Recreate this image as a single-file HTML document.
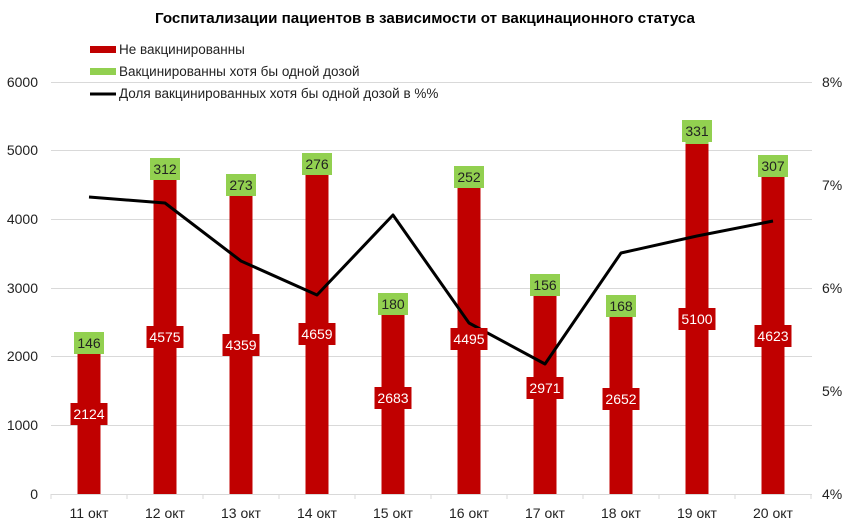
<!DOCTYPE html>
<html><head><meta charset="utf-8"><style>
body{margin:0;background:#fff;}
svg{display:block;font-family:"Liberation Sans","DejaVu Sans",sans-serif;}
</style></head><body>
<svg width="851" height="523" viewBox="0 0 851 523" xmlns="http://www.w3.org/2000/svg">
<rect width="851" height="523" fill="#fff"/>
<text x="425" y="23" font-size="15" font-weight="bold" text-anchor="middle" fill="#000" textLength="540" lengthAdjust="spacingAndGlyphs">Госпитализации пациентов в зависимости от вакцинационного статуса</text>
<g stroke="#d9d9d9" stroke-width="1">
<line x1="51" y1="82.5" x2="812" y2="82.5"/>
<line x1="51" y1="150.5" x2="812" y2="150.5"/>
<line x1="51" y1="219.5" x2="812" y2="219.5"/>
<line x1="51" y1="288.5" x2="812" y2="288.5"/>
<line x1="51" y1="356.5" x2="812" y2="356.5"/>
<line x1="51" y1="425.5" x2="812" y2="425.5"/>
<line x1="51" y1="494.5" x2="812" y2="494.5"/>
<line x1="51" y1="494" x2="51" y2="499"/><line x1="127" y1="494" x2="127" y2="499"/><line x1="203" y1="494" x2="203" y2="499"/><line x1="279" y1="494" x2="279" y2="499"/><line x1="355" y1="494" x2="355" y2="499"/><line x1="431" y1="494" x2="431" y2="499"/><line x1="507" y1="494" x2="507" y2="499"/><line x1="583" y1="494" x2="583" y2="499"/><line x1="659" y1="494" x2="659" y2="499"/><line x1="735" y1="494" x2="735" y2="499"/><line x1="811" y1="494" x2="811" y2="499"/>
</g>
<g font-size="14" fill="#222" text-anchor="end">
<text x="38" y="87">6000</text><text x="38" y="155">5000</text><text x="38" y="224">4000</text><text x="38" y="293">3000</text><text x="38" y="361">2000</text><text x="38" y="430">1000</text><text x="38" y="499">0</text>
</g>
<g font-size="14" fill="#222" text-anchor="start">
<text x="822" y="87">8%</text><text x="822" y="190">7%</text><text x="822" y="293">6%</text><text x="822" y="396">5%</text><text x="822" y="499">4%</text>
</g>
<g fill="#c00000">
<rect x="77.5" y="348" width="23" height="146"/>
<rect x="153.5" y="180" width="23" height="314"/>
<rect x="229.5" y="195" width="23" height="299"/>
<rect x="305.5" y="174" width="23" height="320"/>
<rect x="381.5" y="310" width="23" height="184"/>
<rect x="457.5" y="185" width="23" height="309"/>
<rect x="533.5" y="290" width="23" height="204"/>
<rect x="609.5" y="312" width="23" height="182"/>
<rect x="685.5" y="144" width="23" height="350"/>
<rect x="761.5" y="176.5" width="23" height="317.5"/>
</g>
<g fill="#92d050">
<rect x="77.5" y="338" width="23" height="10"/>
<rect x="153.5" y="158.4" width="23" height="21.6"/>
<rect x="229.5" y="176" width="23" height="19"/>
<rect x="305.5" y="155" width="23" height="19"/>
<rect x="381.5" y="297.4" width="23" height="12.6"/>
<rect x="457.5" y="168" width="23" height="17"/>
<rect x="533.5" y="279.3" width="23" height="10.7"/>
<rect x="609.5" y="300.4" width="23" height="11.6"/>
<rect x="685.5" y="121" width="23" height="23"/>
<rect x="761.5" y="155.5" width="23" height="21"/>
</g>
<polyline fill="none" stroke="#000" stroke-width="3" stroke-linejoin="round" points="89,197 165,203 241,261 317,295 393,215 469,323 545,364 621,253 697,236 773,221"/>
<g fill="#c00000">
<rect x="70.5" y="403" width="37" height="22"/>
<rect x="146.5" y="326" width="37" height="22"/>
<rect x="222.5" y="334" width="37" height="22"/>
<rect x="298.5" y="323" width="37" height="22"/>
<rect x="374.5" y="387" width="37" height="22"/>
<rect x="450.5" y="328" width="37" height="22"/>
<rect x="526.5" y="377" width="37" height="22"/>
<rect x="602.5" y="388" width="37" height="22"/>
<rect x="678.5" y="308" width="37" height="22"/>
<rect x="754.5" y="325" width="37" height="22"/>
</g>
<g font-size="14" fill="#fff" text-anchor="middle">
<text x="89" y="419">2124</text><text x="165" y="342">4575</text><text x="241" y="350">4359</text><text x="317" y="339">4659</text><text x="393" y="403">2683</text><text x="469" y="344">4495</text><text x="545" y="393">2971</text><text x="621" y="404">2652</text><text x="697" y="324">5100</text><text x="773" y="341">4623</text>
</g>
<g fill="#92d050">
<rect x="74" y="332" width="30" height="22"/>
<rect x="150" y="158" width="30" height="22"/>
<rect x="226" y="174" width="30" height="22"/>
<rect x="302" y="153" width="30" height="22"/>
<rect x="378" y="293" width="30" height="22"/>
<rect x="454" y="166" width="30" height="22"/>
<rect x="530" y="274" width="30" height="22"/>
<rect x="606" y="295" width="30" height="22"/>
<rect x="682" y="120" width="30" height="22"/>
<rect x="758" y="155" width="30" height="22"/>
</g>
<g font-size="14" fill="#222" text-anchor="middle">
<text x="89" y="348">146</text><text x="165" y="174">312</text><text x="241" y="190">273</text><text x="317" y="169">276</text><text x="393" y="309">180</text><text x="469" y="182">252</text><text x="545" y="290">156</text><text x="621" y="311">168</text><text x="697" y="136">331</text><text x="773" y="171">307</text>
</g>
<g font-size="14" fill="#222" text-anchor="middle">
<text x="89" y="518">11 окт</text><text x="165" y="518">12 окт</text><text x="241" y="518">13 окт</text><text x="317" y="518">14 окт</text><text x="393" y="518">15 окт</text><text x="469" y="518">16 окт</text><text x="545" y="518">17 окт</text><text x="621" y="518">18 окт</text><text x="697" y="518">19 окт</text><text x="773" y="518">20 окт</text>
</g>
<rect x="90" y="46" width="26" height="7" fill="#c00000"/>
<rect x="90" y="68" width="26" height="7" fill="#92d050"/>
<line x1="90" y1="94" x2="116" y2="94" stroke="#000" stroke-width="3"/>
<g font-size="13.5" fill="#222">
<text x="119" y="54">Не вакцинированны</text>
<text x="119" y="76">Вакцинированны хотя бы одной дозой</text>
<text x="119" y="98">Доля вакцинированных хотя бы одной дозой в %%</text>
</g>
</svg>
</body></html>
